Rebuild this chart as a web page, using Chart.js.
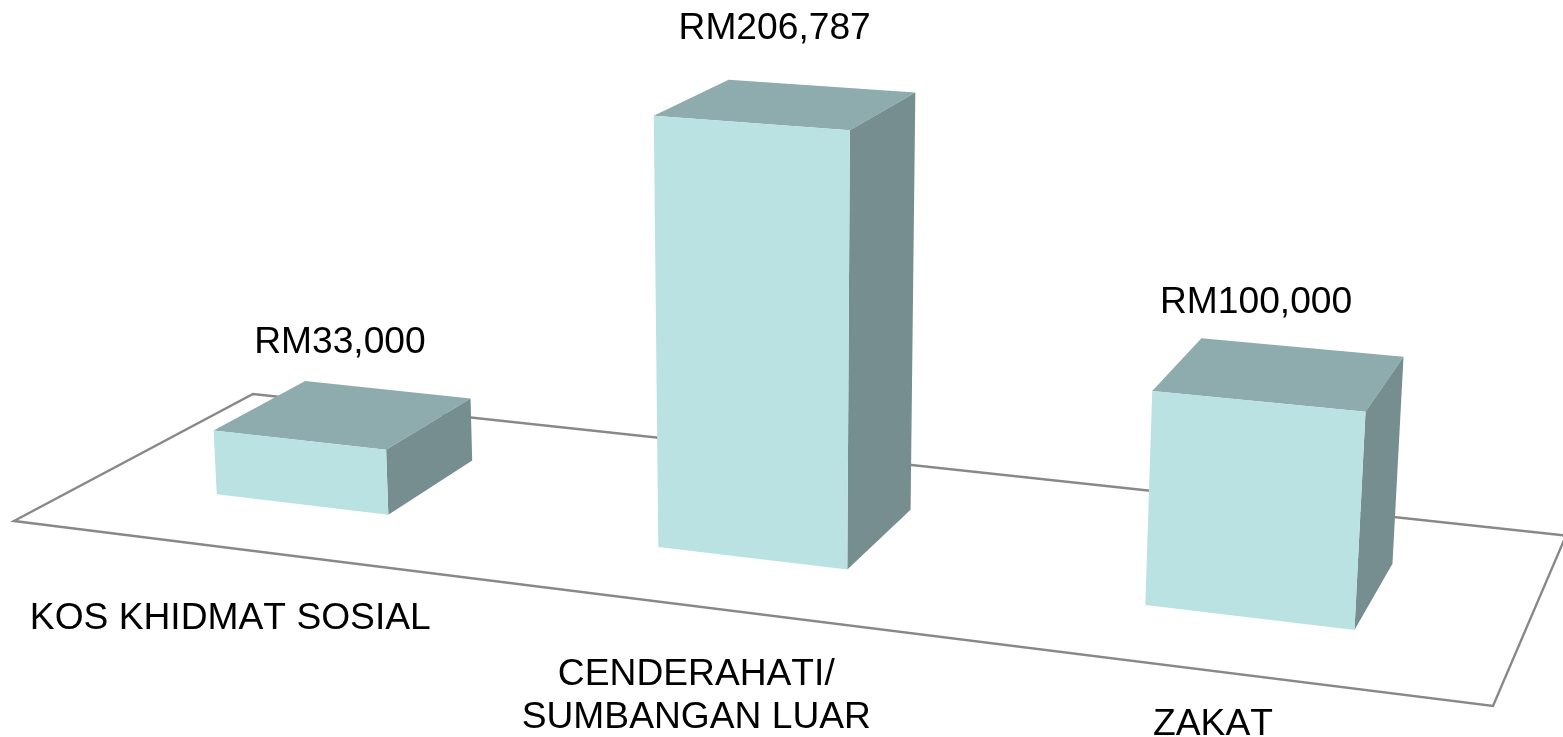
<!DOCTYPE html>
<html>
<head>
<meta charset="utf-8">
<style>
    html, body { margin: 0; padding: 0; background: #ffffff; overflow: hidden; }
    canvas { display: block; }
</style>
<script src="https://cdn.jsdelivr.net/npm/chart.js@4/dist/chart.umd.js"></script>
</head>
<body>
<canvas id="chart" width="1563" height="737"></canvas>
<script>
// Chart data
const categories = ['KOS KHIDMAT SOSIAL', ['CENDERAHATI/', 'SUMBANGAN LUAR'], 'ZAKAT'];
const values = [33000, 206787, 100000];
const axisMax = 250000;

// Label nudges, px from the projected anchor of each category
const valueLabelShift = [[-4, -61], [-12, -65], [-24, -61]];
const categoryLabelDrop = [81, 79, 64];

const FRONT_COLOR = '#BAE2E3';
const TOP_COLOR = '#8EABAD';
const SIDE_COLOR = '#778E90';
const FLOOR_COLOR = '#888888';
const FONT = '37.2px "Liberation Sans", Arial, sans-serif';
const LINE_HEIGHT = 42.5;

// Floor outline on screen: front-left, front-right, back-right, back-left
const FLOOR = [[14, 521], [1493, 706], [1566, 535.5], [253, 394]];
// Bars stand in the middle of the floor's depth, same gap front and back
const DEPTH_FRONT = 0.3;
const DEPTH_BACK = 0.703;
// Verticals converge on this point far below the picture
const VANISH = [780, 12000];
const LIFT = -0.0429;

// Unit square -> floor quad homography (u along the categories, v into the depth)
function floorMapping(q) {
    const [A, D, C, B] = q;
    const dx1 = D[0] - C[0], dy1 = D[1] - C[1];
    const dx2 = B[0] - C[0], dy2 = B[1] - C[1];
    const sx = A[0] - D[0] + C[0] - B[0];
    const sy = A[1] - D[1] + C[1] - B[1];
    const det = dx1 * dy2 - dx2 * dy1;
    const g = (sx * dy2 - dx2 * sy) / det;
    const h = (dx1 * sy - sx * dy1) / det;
    return {
        a: D[0] - A[0] + g * D[0], b: B[0] - A[0] + h * B[0], c: A[0],
        d: D[1] - A[1] + g * D[1], e: B[1] - A[1] + h * B[1], f: A[1],
        g, h
    };
}
const M = floorMapping(FLOOR);

// u, v on the floor and height as a fraction of the value axis -> screen point
function project(u, v, height) {
    const w = M.g * u + M.h * v + 1;
    const x = (M.a * u + M.b * v + M.c) / w;
    const y = (M.d * u + M.e * v + M.f) / w;
    const lift = height * LIFT;
    const t = lift / (w + lift);
    return [x + t * (VANISH[0] - x), y + t * (VANISH[1] - y)];
}

function fillFace(ctx, color, pts) {
    ctx.fillStyle = color;
    ctx.beginPath();
    pts.forEach((p, i) => i ? ctx.lineTo(p[0], p[1]) : ctx.moveTo(p[0], p[1]));
    ctx.closePath();
    ctx.fill();
}

// Redraws the library's bars in perspective, positions come from the bar elements
const perspectiveBars = {
    id: 'perspectiveBars',
    beforeDatasetsDraw(chart) {
        const ctx = chart.ctx;
        ctx.save();
        ctx.strokeStyle = FLOOR_COLOR;
        ctx.lineWidth = 2.4;
        ctx.lineJoin = 'miter';
        ctx.beginPath();
        FLOOR.forEach((p, i) => i ? ctx.lineTo(p[0], p[1]) : ctx.moveTo(p[0], p[1]));
        ctx.closePath();
        ctx.stroke();
        ctx.restore();
    },
    // the flat bars are replaced by the block drawing below
    beforeDatasetDraw() {
        return false;
    },
    afterDatasetsDraw(chart) {
        const ctx = chart.ctx;
        const area = chart.chartArea;
        const meta = chart.getDatasetMeta(0);
        ctx.save();
        ctx.font = FONT;
        ctx.fontKerning = 'none';
        ctx.fillStyle = '#000000';
        meta.data.forEach((bar, i) => {
            const { x, y, base, width } = bar.getProps(['x', 'y', 'base', 'width'], true);
            const u0 = (x - width / 2 - area.left) / area.width;
            const u1 = (x + width / 2 - area.left) / area.width;
            const uMid = (x - area.left) / area.width;
            const frac = (base - y) / area.height;

            const topFL = project(u0, DEPTH_FRONT, frac);
            const topFR = project(u1, DEPTH_FRONT, frac);
            const topBR = project(u1, DEPTH_BACK, frac);
            const topBL = project(u0, DEPTH_BACK, frac);
            const baseFL = project(u0, DEPTH_FRONT, 0);
            const baseFR = project(u1, DEPTH_FRONT, 0);
            const baseBR = project(u1, DEPTH_BACK, 0);

            fillFace(ctx, TOP_COLOR, [topFL, topFR, topBR, topBL]);
            fillFace(ctx, SIDE_COLOR, [topFR, topBR, baseBR, baseFR]);
            fillFace(ctx, bar.options.backgroundColor, [topFL, topFR, baseFR, baseFL]);

            // value above the block
            const anchor = project(uMid, 0.5, frac);
            ctx.fillStyle = '#000000';
            ctx.textAlign = 'center';
            ctx.textBaseline = 'alphabetic';
            ctx.fillText('RM' + values[i].toLocaleString('en-US'),
                anchor[0] + valueLabelShift[i][0], anchor[1] + valueLabelShift[i][1]);

            // category under the front edge of the floor
            const edge = project(uMid, 0, 0);
            const lines = [].concat(categories[i]);
            lines.forEach((line, n) => {
                ctx.fillText(line, edge[0], edge[1] + categoryLabelDrop[i] + n * LINE_HEIGHT);
            });
        });
        ctx.restore();
    }
};

new Chart(document.getElementById('chart'), {
    type: 'bar',
    data: {
        labels: categories,
        datasets: [{
            data: values,
            backgroundColor: FRONT_COLOR,
            barPercentage: 0.4,
            categoryPercentage: 1
        }]
    },
    options: {
        responsive: false,
        animation: false,
        events: [],
        layout: { padding: 0 },
        plugins: { legend: { display: false }, tooltip: { enabled: false } },
        scales: {
            x: { display: false },
            y: { display: false, min: 0, max: axisMax }
        }
    },
    plugins: [perspectiveBars]
});
</script>
</body>
</html>
